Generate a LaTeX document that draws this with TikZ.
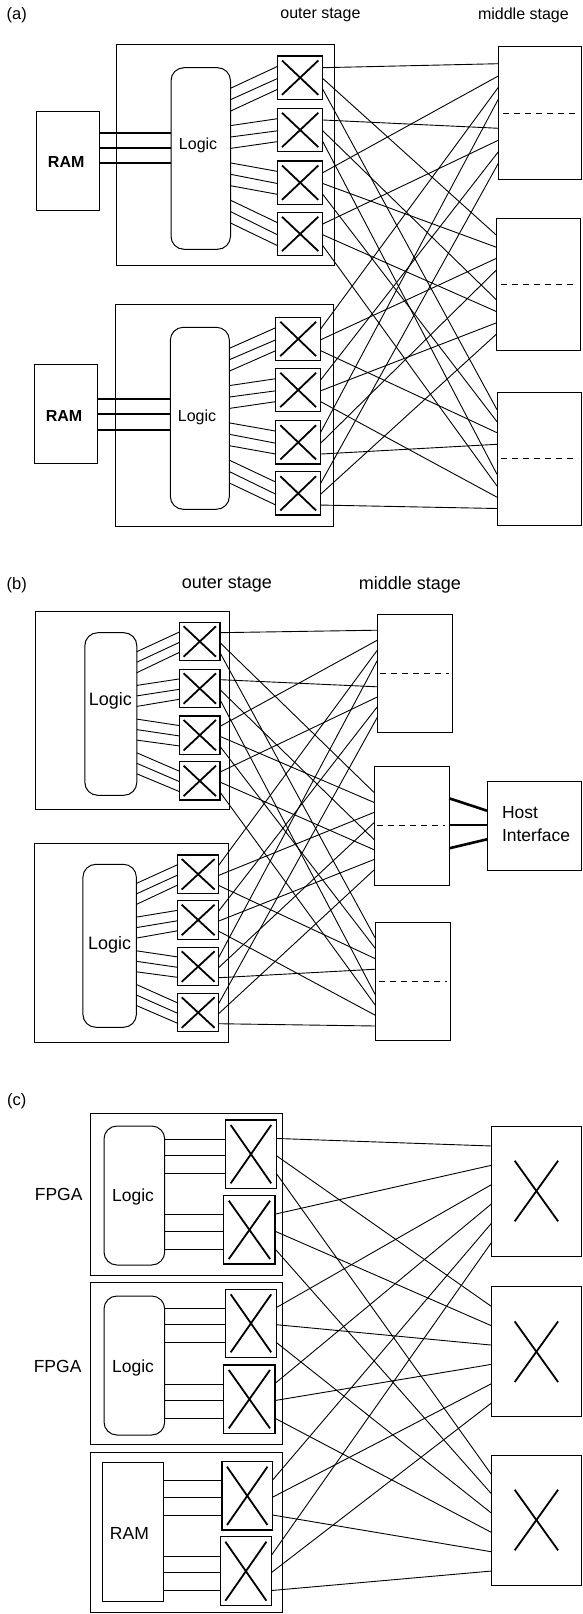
\documentclass[tikz,border=0pt]{standalone}
\usepackage{fontspec}
\setmainfont{Liberation Sans}
\usetikzlibrary{calc,fit}

\tikzset{
  frame/.style={draw, line width=1pt, inner sep=0pt, outer sep=0pt},
  logicbox/.style={frame, rounded corners=13pt},
  swbox/.style={draw, line width=1.3pt, inner sep=0pt, outer sep=0pt},
  wire/.style={line width=0.9pt},
  bus/.style={line width=2.2pt},
  hostbus/.style={line width=2.6pt},
  cross/.style={line width=1.8pt},
  half/.style={line width=1pt, dash pattern=on 6pt off 5pt},
  txt/.style={inner sep=0pt, outer sep=0pt},
  fa/.style={txt, font=\fontsize{16}{19}\selectfont},
  fab/.style={txt, font=\fontsize{16}{19}\selectfont\bfseries},
  fb/.style={txt, font=\fontsize{18}{21}\selectfont},
  fc/.style={txt, font=\fontsize{17.5}{23.3}\selectfont},
  fl/.style={txt, font=\fontsize{16.5}{19}\selectfont},
}

% rectangle given by two corners
\newcommand\mkbox[6][frame]{\node[#1, fit={(#3,#4) (#5,#6)}] (#2) {};}
% crossbar switch: box with a cross, inset #6
\newcommand\xsw[6]{%
  \node[swbox, fit={(#2,#3) (#4,#5)}] (#1) {};
  \draw[cross] ($(#1.north west)+(#6pt,-#6pt)$) -- ($(#1.south east)+(-#6pt,#6pt)$);
  \draw[cross] ($(#1.north east)+(-#6pt,-#6pt)$) -- ($(#1.south west)+(#6pt,#6pt)$);}

\begin{document}
\begin{tikzpicture}[x=1pt,y=-1pt]
\useasboundingbox (0,0) rectangle (583,1614);

% =================== (a) ===================
\node[fl] (la) at (16.7,15) {(a)};
\node[fa] (aouter) at (320.4,15) {outer stage};
\node[fa] (amiddle) at (523.4,15) {middle stage};

% first FPGA
\mkbox{a1box}{116.4}{44.3}{334.2}{265.7}
\mkbox{a1ram}{36.1}{111}{99.3}{210}
\node[fab] (a1ramt) at (66.2,162.3) {RAM};
\mkbox[logicbox]{a1logic}{171}{67.7}{230.5}{249.3}
\node[fa] (a1logt) at (198.1,145) {Logic};
\foreach \yy in {133.3,147.7,163} \draw[bus] (a1ram.east |- 0,\yy) -- (a1logic.west |- 0,\yy);
\foreach \n/\tp in {1/56,2/108.3,3/161,4/212.3} {\xsw{a1x\n}{277.5}{\tp}{322.8}{\tp+43.3}{4.5}}
\foreach \g in {1,...,4} \foreach \k/\frc in {0/0.24,1/0.52,2/0.77}
  \draw[wire] (a1logic.east |- 0,{88.3+(\g-1)*37.3+\k*11.4}) -- ($(a1x\g.north west)!\frc!(a1x\g.south west)$);

% second FPGA
\mkbox{a2box}{115.6}{304}{333}{526}
\mkbox{a2ram}{34.2}{364.3}{97.4}{463.3}
\node[fab] (a2ramt) at (64,416) {RAM};
\mkbox[logicbox]{a2logic}{170.3}{327.3}{229.4}{509.3}
\node[fa] (a2logt) at (197,417.7) {Logic};
\foreach \yy in {399,414.3,429.7} \draw[bus] (a2ram.east |- 0,\yy) -- (a2logic.west |- 0,\yy);
\foreach \n/\tp in {1/317.3,2/368.3,3/420.7,4/471.7} {\xsw{a2x\n}{275.8}{\tp}{320.6}{\tp+43.3}{4.5}}
\foreach \g in {1,...,4} \foreach \k/\frc in {0/0.24,1/0.52,2/0.77}
  \draw[wire] (a2logic.east |- 0,{348.3+(\g-1)*37.3+\k*11.4}) -- ($(a2x\g.north west)!\frc!(a2x\g.south west)$);

% middle stage
\mkbox{am1}{498.8}{46.7}{581}{179.3}
\mkbox{am2}{496.5}{218.3}{580}{350}
\mkbox{am3}{497}{392.7}{581}{525}
\foreach \mm in {1,2,3} \draw[half] ($(am\mm.west)+(4pt,0pt)$) -- ($(am\mm.east)+(-3pt,0pt)$);

% outer to middle links
\foreach \ff in {1,2} \foreach \xx in {1,...,4} \foreach \mm in {1,2,3} {
  \pgfmathtruncatemacro\ent{ifthenelse(mod(\xx,2)==1,0,4)+(\ff-1)*2+int((\xx-1)/2)}
  \pgfmathsetmacro\offs{{17,29,40,51.6,81.6,93.3,104.5,115.8}[\ent]}
  \pgfmathsetmacro\frc{{0.27,0.52,0.77}[\mm-1]}
  \draw[wire] ($(a\ff x\xx.north east)!\frc!(a\ff x\xx.south east)$) -- ($(am\mm.north west)+(0pt,-\offs pt)$);
}

% =================== (b) ===================
\node[fl] (lb) at (16.7,585) {(b)};
\node[fb] (bouter) at (226.8,585) {outer stage};
\node[fb] (bmiddle) at (410,585) {middle stage};

\mkbox{b1box}{35.3}{611.7}{229.7}{809.3}
\mkbox[logicbox]{b1logic}{84.8}{632.7}{136.8}{795.3}
\node[fb] (b1logt) at (110.4,701) {Logic};
\foreach \n/\tp in {1/622.3,2/669.3,3/716,4/761.7} {\xsw{b1x\n}{179.6}{\tp}{220}{\tp+38.4}{4}}
\foreach \g in {1,...,4} \foreach \k/\frc in {0/0.25,1/0.52,2/0.78}
  \draw[wire] (b1logic.east |- 0,{651.7+(\g-1)*33.7+\k*10.5}) -- ($(b1x\g.north west)!\frc!(b1x\g.south west)$);

\mkbox{b2box}{34.2}{843.3}{228.6}{1042.3}
\mkbox[logicbox]{b2logic}{82.9}{864.3}{136.4}{1027.3}
\node[fb] (b2logt) at (109.7,945) {Logic};
\foreach \n/\tp in {1/855,2/900.7,3/947.3,4/993.3} {\xsw{b2x\n}{177.7}{\tp}{218.6}{\tp+38.5}{4}}
\foreach \g in {1,...,4} \foreach \k/\frc in {0/0.25,1/0.52,2/0.78}
  \draw[wire] (b2logic.east |- 0,{883.4+(\g-1)*33.7+\k*10.5}) -- ($(b2x\g.north west)!\frc!(b2x\g.south west)$);

\mkbox{bm1}{377.3}{614}{452.8}{732.3}
\mkbox{bm2}{374}{766.7}{449.2}{885}
\mkbox{bm3}{375.7}{922.7}{450.5}{1040.7}
\foreach \mm in {1,2,3} \draw[half] ($(bm\mm.west)+(3pt,0pt)$) -- ($(bm\mm.east)+(-4pt,0pt)$);

\foreach \ff in {1,2} \foreach \xx in {1,...,4} \foreach \mm in {1,2,3} {
  \pgfmathtruncatemacro\ent{ifthenelse(mod(\xx,2)==1,0,4)+(\ff-1)*2+int((\xx-1)/2)}
  \pgfmathsetmacro\offs{{16.2,26.2,36.2,46.5,72.8,83,92.8,103.3}[\ent]+ifthenelse(\mm==2,ifthenelse(\ent<4,9.5,0),0)}
  \pgfmathsetmacro\frc{{0.27,0.53,0.79}[\mm-1]}
  \draw[wire] ($(b\ff x\xx.north east)!\frc!(b\ff x\xx.south east)$) -- ($(bm\mm.north west)+(0pt,-\offs pt)$);
}

% host interface
\mkbox{host}{487}{781}{581}{870.7}
\node[fc, anchor=west, align=left] (hostt) at (502,824.3) {Host\\Interface};
\draw[hostbus] (bm2.east |- 0,798.3) -- (host.west |- 0,810.7);
\draw[hostbus] (bm2.east |- 0,825) -- (host.west |- 0,825);
\draw[hostbus] (bm2.east |- 0,848.3) -- (host.west |- 0,839.3);

% =================== (c) ===================
\node[fl] (lc) at (16.7,1101.7) {(c)};

\mkbox{c1box}{90}{1113.3}{282.5}{1275}
\mkbox{c2box}{90}{1282.7}{282.5}{1444.3}
\mkbox{c3box}{90}{1452.7}{282.5}{1612.5}
\node[fc] (c1name) at (58.7,1194) {FPGA};
\node[fc] (c2name) at (57.6,1366.7) {FPGA};

\mkbox[logicbox]{c1logic}{104}{1126}{164.7}{1265}
\node[fc] (c1logt) at (133,1196.7) {Logic};
\mkbox[logicbox]{c2logic}{104}{1296}{164.7}{1435}
\node[fc] (c2logt) at (133,1368.3) {Logic};
\mkbox{c3ram}{102.6}{1462.7}{163.6}{1601.7}
\node[fc] (c3ramt) at (129.4,1533.3) {RAM};

\xsw{c1x1}{225.7}{1120}{276.2}{1188.3}{5}
\xsw{c1x2}{223.8}{1195.7}{275.1}{1264}{5}
\xsw{c2x1}{225.7}{1289.3}{276.2}{1357.3}{5}
\xsw{c2x2}{223.8}{1365}{275}{1433.3}{5}
\xsw{c3x1}{222}{1461.7}{272.5}{1530}{5}
\xsw{c3x2}{220.4}{1536.7}{271.4}{1605.7}{5}

\foreach \ff/\src in {1/c1logic,2/c2logic,3/c3ram} \foreach \xx in {1,2} \foreach \frc in {0.28,0.52,0.78} {
  \path ($(c\ff x\xx.north west)!\frc!(c\ff x\xx.south west)$) coordinate (cin);
  \draw[wire] (\src.east |- cin) -- (cin);
}

\mkbox{cm1}{491.8}{1126}{581}{1256}
\mkbox{cm2}{491.8}{1286.7}{581}{1416.7}
\mkbox{cm3}{491.8}{1455}{581}{1585}
\foreach \mm in {1,2,3} {
  \draw[cross] ($(cm\mm.center)+(-21.7pt,30.3pt)$) -- ($(cm\mm.center)+(21.7pt,-30.3pt)$);
  \draw[cross] ($(cm\mm.center)+(21.7pt,30.3pt)$) -- ($(cm\mm.center)+(-21.7pt,-30.3pt)$);
}

\foreach \ff in {1,2,3} \foreach \xx in {1,2} \foreach \mm in {1,2,3} {
  \pgfmathsetmacro\offs{20+19.2*((\ff-1)*2+\xx-1)}
  \pgfmathsetmacro\frc{{0.27,0.52,0.78}[\mm-1]}
  \draw[wire] ($(c\ff x\xx.north east)!\frc!(c\ff x\xx.south east)$) -- ($(cm\mm.north west)+(0pt,-\offs pt)$);
}

\end{tikzpicture}
\end{document}
